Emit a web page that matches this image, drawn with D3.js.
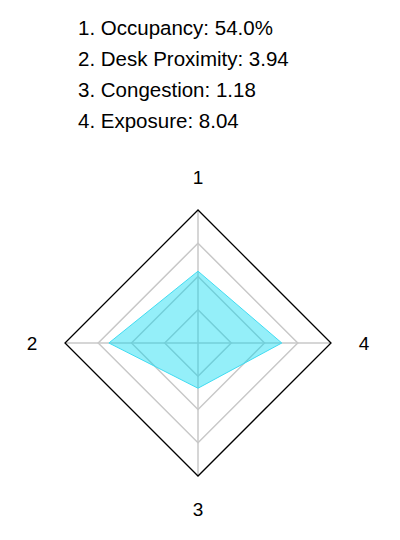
<!DOCTYPE html>
<html>
<head>
<meta charset="utf-8">
<script src="https://cdn.jsdelivr.net/npm/d3@7"></script>
<style>
  html, body { margin: 0; padding: 0; background: #fff; }
  svg { display: block; font-family: "Liberation Sans", Arial, sans-serif; }
</style>
</head>
<body>
<div id="chart"></div>
<script>
const axisLabels = ['1', '2', '3', '4'];
const metricNames = ['Occupancy', 'Desk Proximity', 'Congestion', 'Exposure'];
const metricText = ['54.0%', '3.94', '1.18', '8.04'];
// normalised radius of each vertex (0..1)
const metricScaled = [0.54, 0.67, 0.34, 0.63];
const gridLevels = [0.25, 0.5, 0.75, 1];

const width = 400, height = 540;
const cx = 198, cy = 343, R = 133;

const svg = d3.select('#chart').append('svg')
  .attr('width', width)
  .attr('height', height);

// header list
svg.append('g').selectAll('text')
  .data(metricNames)
  .join('text')
    .attr('x', 78)
    .attr('y', (d, i) => 35 + i * 31)
    .attr('font-size', 20.5)
    .attr('fill', '#000')
    .text((d, i) => `${i + 1}. ${d}: ${metricText[i]}`);

const r = d3.scaleLinear().domain([0, 1]).range([0, R]);
const angle = i => -Math.PI / 2 - i * Math.PI / 2;
const pt = (i, v) => [cx + Math.cos(angle(i)) * r(v), cy + Math.sin(angle(i)) * r(v)];

const g = svg.append('g');

// spokes
g.selectAll('line.spoke')
  .data(axisLabels)
  .join('line')
    .attr('class', 'spoke')
    .attr('x1', cx).attr('y1', cy)
    .attr('x2', (d, i) => pt(i, 1)[0])
    .attr('y2', (d, i) => pt(i, 1)[1])
    .attr('stroke', '#c8c8c8')
    .attr('stroke-width', 1.5);

// rings
const ringLine = d3.line().curve(d3.curveLinearClosed);
g.selectAll('path.ring')
  .data(gridLevels)
  .join('path')
    .attr('class', 'ring')
    .attr('d', lv => ringLine(axisLabels.map((d, i) => pt(i, lv))))
    .attr('fill', 'none')
    .attr('stroke', lv => lv === 1 ? '#000' : '#c8c8c8')
    .attr('stroke-width', lv => lv === 1 ? 1.3 : 1.5);

// data polygon
g.append('path')
  .attr('d', ringLine(metricScaled.map((v, i) => pt(i, v))))
  .attr('fill', '#00d8f0')
  .attr('fill-opacity', 0.42)
  .attr('stroke', '#40dcf2')
  .attr('stroke-width', 1);

// axis labels
const labelOffset = 33;
g.selectAll('text.axis-label')
  .data(axisLabels)
  .join('text')
    .attr('class', 'axis-label')
    .attr('x', (d, i) => cx + Math.cos(angle(i)) * (R + labelOffset))
    .attr('y', (d, i) => cy + Math.sin(angle(i)) * (R + labelOffset))
    .attr('text-anchor', 'middle')
    .attr('dominant-baseline', 'central')
    .attr('font-size', 19)
    .text(d => d);
</script>
</body>
</html>
